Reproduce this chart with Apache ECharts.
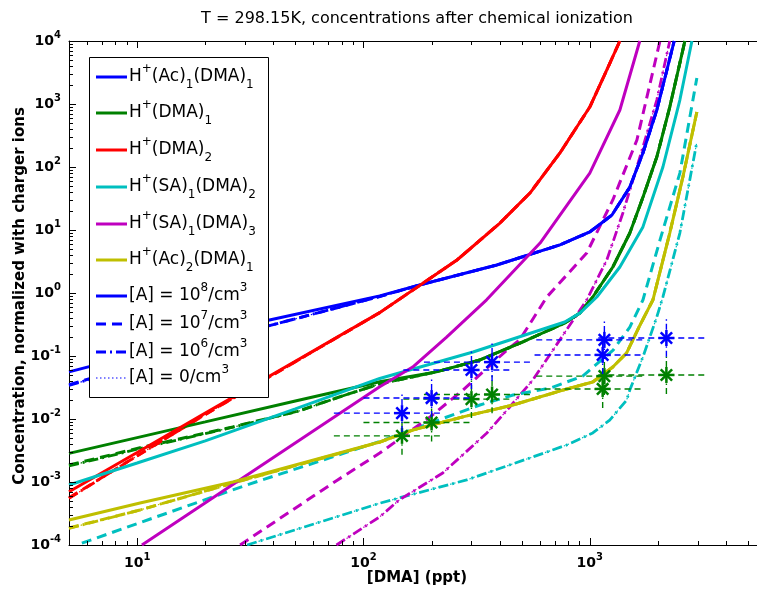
<!DOCTYPE html>
<html><head><meta charset="utf-8">
<script src="https://cdn.jsdelivr.net/npm/echarts@6/dist/echarts.min.js"></script>
<style>html,body{margin:0;padding:0;background:#fff}#c{width:757px;height:592px}</style>
</head><body><div id="c"></div>
<script>
// ---- axis ticks ----
const xMajorTicks = [10, 100, 1000];
const xMinorTicks = [6,7,8,9,20,30,40,50,60,70,80,90,200,300,400,500,600,700,800,900,2000,3000,4000,5000];
const yMajorTicks = [1e-4,1e-3,1e-2,1e-1,1,10,100,1000,10000];
const yMinorTicks = [];
[1e-4,1e-3,1e-2,1e-1,1,10,100,1000].forEach(d => { for (let k = 2; k <= 9; k++) yMinorTicks.push(+(k*d).toPrecision(3)); });

// ---- model curves: [DMA] (ppt), normalized concentration ----
// H+(Ac)1(DMA)1 (blue)
const blue_1e8 = [[5,0.056],[38,0.37],[118,0.9],[177,1.34],[388,2.78],[738,5.8],[1000,9.3],[1253,17.3],[1503,48],[1717,167],[1977,800],[2360,10000]];
const blue_1e7 = [[5,0.035],[38,0.3],[118,0.88],[177,1.34],[388,2.78],[738,5.8],[1000,9.3],[1253,17.3],[1503,48],[1717,167],[1977,800],[2360,10000]];
const blue_1e6 = [[5,0.034],[38,0.3],[118,0.88],[177,1.34],[388,2.78],[738,5.8],[1000,9.3],[1253,17.3],[1503,48],[1717,167],[1977,800],[2360,10000]];
// H+(DMA)1 (green)
const green_1e8 = [[5,0.00285],[20,0.009],[50,0.0193],[118,0.039],[210,0.056],[327,0.0865],[506,0.167],[775,0.334],[904,0.48],[1031,0.865],[1264,2.59],[1503,8.95],[1717,33],[1977,144],[2256,895],[2577,7200],[2630,10000]];
const green_1e7 = [[5,0.00186],[10.3,0.0035],[26.5,0.0075],[52,0.0135],[80,0.023],[118,0.036],[210,0.056],[327,0.0865],[506,0.167],[775,0.334],[904,0.48],[1031,0.865],[1264,2.59],[1503,8.95],[1717,33],[1977,144],[2256,895],[2577,7200],[2630,10000]];
const green_1e6 = [[5,0.0018],[10.3,0.0034],[26.5,0.0074],[52,0.0134],[80,0.023],[118,0.036],[210,0.056],[327,0.0865],[506,0.167],[775,0.334],[904,0.48],[1031,0.865],[1264,2.59],[1503,8.95],[1717,33],[1977,144],[2256,895],[2577,7200],[2630,10000]];
// H+(DMA)2 (red)
const red_1e8 = [[5,0.0007],[10,0.00294],[20,0.0124],[50,0.0824],[118,0.488],[259,3.34],[401,12.9],[544,38.6],[738,167],[1000,895],[1189,3470],[1358,10000]];
const red_1e7 = [[5,0.00056],[10,0.0026],[20,0.0118],[50,0.081],[118,0.488],[259,3.34],[401,12.9],[544,38.6],[738,167],[1000,895],[1189,3470],[1358,10000]];
const red_1e6 = [[5,0.00055],[10,0.0026],[20,0.0118],[50,0.081],[118,0.488],[259,3.34],[401,12.9],[544,38.6],[738,167],[1000,895],[1189,3470],[1358,10000]];
// H+(SA)1(DMA)2 (cyan)
const cyan_1e8 = [[5,0.000895],[10,0.002],[20,0.0045],[50,0.0145],[118,0.044],[305,0.1156],[775,0.347],[904,0.48],[1074,0.865],[1358,2.59],[1717,11.2],[2104,100],[2500,1156],[2826,10000]];
const cyan_1e7 = [[5.7,0.000107],[30.6,0.0009],[118,0.0044],[327,0.0167],[458,0.024],[670,0.031],[930,0.048],[1268,0.124],[1503,0.288],[1717,0.774],[2042,6.9],[2500,80],[2972,2590]];
const cyan_1e6 = [[30.6,0.0001],[118,0.00046],[144,0.00056],[286,0.00108],[560,0.0025],[791,0.00387],[1031,0.006],[1225,0.0096],[1455,0.02],[1503,0.029],[1717,0.0964],[1977,0.416],[2104,0.865],[2500,8.95],[2972,250]];
// H+(SA)1(DMA)3 (magenta)
const magenta_1e8 = [[10.5,0.0001],[118,0.0326],[165,0.0668],[233,0.2],[350,0.78],[603,6.2],[1000,80],[1358,803],[1663,10000]];
const magenta_1e7 = [[28.5,0.0001],[76,0.00105],[118,0.00288],[197,0.0108],[275,0.0288],[430,0.124],[490,0.18],[646,0.865],[969,4.3],[1264,30],[1615,268],[2042,10000]];
const magenta_1e6 = [[76,0.0001],[118,0.00028],[144,0.00052],[224,0.00139],[351,0.006],[443,0.0155],[560,0.0416],[969,0.774],[1189,3.34],[1400,18.6],[1717,207],[1977,1156],[2256,10000]];
// H+(Ac)2(DMA)1 (yellow)
const yellow_1e8 = [[5,0.000249],[10.3,0.000464],[26.5,0.001],[118,0.00432],[165,0.00668],[275,0.0108],[458,0.0167],[762,0.0288],[1031,0.0387],[1264,0.0668],[1455,0.112],[1650,0.288],[1900,0.774],[2256,8.95],[2577,69],[2972,746]];
const yellow_1e7 = [[5,0.000186],[10.3,0.00036],[26.5,0.00096],[118,0.0043],[165,0.00668],[275,0.0108],[458,0.0167],[762,0.0288],[1031,0.0387],[1264,0.0668],[1455,0.112],[1650,0.288],[1900,0.774],[2256,8.95],[2577,69],[2972,746]];
const yellow_1e6 = [[5,0.000184],[10.3,0.00036],[26.5,0.00096],[118,0.0043],[165,0.00668],[275,0.0108],[458,0.0167],[762,0.0288],[1031,0.0387],[1264,0.0668],[1455,0.112],[1650,0.288],[1900,0.774],[2256,8.95],[2577,69],[2972,746]];

// ---- measurements ----
const measX    = [148, 200, 300, 370, 1160, 1140, 2180];
const measXlo  = [74, 100, 150, 185, 580, 570, 1090];
const measXhi  = [222, 300, 450, 555, 1740, 1710, 3270];
const blueY    = [0.0124, 0.0215, 0.060, 0.080, 0.18, 0.104, 0.193];
const blueYlo  = [0.0062, 0.0108, 0.030, 0.040, 0.090, 0.052, 0.097];
const blueYhi  = [0.0248, 0.043, 0.120, 0.160, 0.36, 0.208, 0.386];
const greenY   = [0.0054, 0.0088, 0.0207, 0.0245, 0.048, 0.030, 0.050];
const greenYlo = [0.0027, 0.0044, 0.0104, 0.0123, 0.024, 0.015, 0.025];
const greenYhi = [0.0108, 0.0176, 0.0414, 0.049, 0.096, 0.060, 0.100];

const X_MIN = 5, X_MAX = 5480, Y_MIN = 1e-4, Y_MAX = 1e4;
const C = {blue:'#0000ff', green:'#008000', red:'#ff0000', cyan:'#00bfbf', magenta:'#bf00bf', yellow:'#bfbf00'};
const STY = {
  s8: {type:'solid', width:3},
  s7: {type:[10,6], width:3},
  s6: {type:[10,4,2,4], width:2.8},
  s0: {type:[1.5,2.5], width:1.2}
};
const groups = [
  [C.blue, blue_1e8, blue_1e7, blue_1e6],
  [C.green, green_1e8, green_1e7, green_1e6],
  [C.red, red_1e8, red_1e7, red_1e6],
  [C.cyan, cyan_1e8, cyan_1e7, cyan_1e6],
  [C.magenta, magenta_1e8, magenta_1e7, magenta_1e6],
  [C.yellow, yellow_1e8, yellow_1e7, yellow_1e6]
];
const series = [];
function lineS(color, data, sty){
  return {type:'line', data, symbol:'none', smooth:false, clip:true, silent:true,
    lineStyle:{color, width:sty.width, type:sty.type, cap:'butt'}, z:2};
}
['s0','s6','s7','s8'].forEach(k => {
  groups.forEach(g => {
    const d = k==='s8'?g[1]:k==='s7'?g[2]:g[3];
    series.push(lineS(g[0], d, STY[k]));
  });
});
function errSeries(color, xs, ys, xlo, xhi, ylo, yhi){
  const data = xs.map((x,i)=>[x, ys[i], xlo[i], xhi[i], ylo[i], yhi[i]]);
  return {type:'custom', data, encode:{x:0,y:1}, z:5, clip:false, silent:true,
    renderItem(params, api){
      const c = api.coord([api.value(0), api.value(1)]);
      const l = api.coord([api.value(2), api.value(1)]);
      const r = api.coord([api.value(3), api.value(1)]);
      const b = api.coord([api.value(0), api.value(4)]);
      const t = api.coord([api.value(0), api.value(5)]);
      const R = 8, D = 5.7;
      const st = {stroke:color, lineWidth:2.5, fill:null};
      return {type:'group', children:[
        {type:'line', shape:{x1:l[0],y1:l[1],x2:r[0],y2:r[1]}, style:{stroke:color, lineWidth:1.4, lineDash:[6,4]}},
        {type:'line', shape:{x1:b[0],y1:b[1],x2:t[0],y2:t[1]}, style:{stroke:color, lineWidth:1.4, lineDash:[6,3,1.5,3]}},
        {type:'line', shape:{x1:c[0]-R,y1:c[1],x2:c[0]+R,y2:c[1]}, style:st},
        {type:'line', shape:{x1:c[0],y1:c[1]-R,x2:c[0],y2:c[1]+R}, style:st},
        {type:'line', shape:{x1:c[0]-D,y1:c[1]-D,x2:c[0]+D,y2:c[1]+D}, style:st},
        {type:'line', shape:{x1:c[0]-D,y1:c[1]+D,x2:c[0]+D,y2:c[1]-D}, style:st}
      ]};
    }};
}
series.push(errSeries(C.green, measX, greenY, measXlo, measXhi, greenYlo, greenYhi));
series.push(errSeries(C.blue, measX, blueY, measXlo, measXhi, blueYlo, blueYhi));

// ---- tick marks (drawn through the axis scales) ----
const xTickData = xMajorTicks.map(v => [v, Y_MIN, 7]).concat(xMinorTicks.map(v => [v, Y_MIN, 4]));
const yTickData = yMajorTicks.map(v => [X_MIN, v, 7]).concat(yMinorTicks.map(v => [X_MIN, v, 4]));
series.push({type:'custom', data:xTickData, encode:{x:0,y:1}, z:6, clip:false, silent:true,
  renderItem(params, api){
    const v = api.value(0), len = api.value(2);
    const b = api.coord([v, Y_MIN]), t = api.coord([v, Y_MAX]);
    const st = {stroke:'#000', lineWidth:1};
    const xx = Math.round(b[0]) + 0.5;
    return {type:'group', children:[
      {type:'line', shape:{x1:xx, y1:b[1], x2:xx, y2:b[1]-len}, style:st},
      {type:'line', shape:{x1:xx, y1:t[1], x2:xx, y2:t[1]+len}, style:st}
    ]};
  }});
series.push({type:'custom', data:yTickData, encode:{x:0,y:1}, z:6, clip:false, silent:true,
  renderItem(params, api){
    const v = api.value(1), len = api.value(2);
    const l = api.coord([X_MIN, v]);
    const yy = Math.round(l[1]) + 0.5;
    return {type:'line', shape:{x1:l[0], y1:yy, x2:l[0]+len, y2:yy}, style:{stroke:'#000', lineWidth:1}};
  }});

const FONT = 'DejaVu Sans';
const tickRich = {
  b:{fontFamily:FONT, fontSize:14, fontWeight:'bold', color:'#000', lineHeight:22, verticalAlign:'middle'},
  s:{fontFamily:FONT, fontSize:10, fontWeight:'bold', color:'#000', lineHeight:10, verticalAlign:'top'}
};
function powFmt(v){ const e = Math.round(Math.log10(v)); if (Math.abs(Math.log10(v)-e) > 1e-6) return ''; return '{b|10}{s|' + e + '}'; }

// ---- legend (graphic) ----
const lg = {x:89, y:57, w:179, h:340, lineX1:96, lineX2:127, textX:129};
const legendItems = [
  {y:77,  color:C.blue,    sty:'s8', text:'{n|H}{p|+}{n|(Ac)}{d|1}{n|(DMA)}{d|1}'},
  {y:113, color:C.green,   sty:'s8', text:'{n|H}{p|+}{n|(DMA)}{d|1}'},
  {y:150, color:C.red,     sty:'s8', text:'{n|H}{p|+}{n|(DMA)}{d|2}'},
  {y:187, color:C.cyan,    sty:'s8', text:'{n|H}{p|+}{n|(SA)}{d|1}{n|(DMA)}{d|2}'},
  {y:224, color:C.magenta, sty:'s8', text:'{n|H}{p|+}{n|(SA)}{d|1}{n|(DMA)}{d|3}'},
  {y:260, color:C.yellow,  sty:'s8', text:'{n|H}{p|+}{n|(Ac)}{d|2}{n|(DMA)}{d|1}'},
  {y:296, color:C.blue,    sty:'s8', text:'{n|[A] = 10}{p|8}{n|/cm}{p|3}'},
  {y:324, color:C.blue,    sty:'s7', text:'{n|[A] = 10}{p|7}{n|/cm}{p|3}'},
  {y:352, color:C.blue,    sty:'s6', text:'{n|[A] = 10}{p|6}{n|/cm}{p|3}'},
  {y:378, color:C.blue,    sty:'s0', text:'{n|[A] = 0/cm}{p|3}'}
];
const legRich = {
  n:{fontFamily:FONT, fontSize:17, color:'#000', lineHeight:28, verticalAlign:'middle'},
  p:{fontFamily:FONT, fontSize:12, color:'#000', lineHeight:14, verticalAlign:'top'},
  d:{fontFamily:FONT, fontSize:12, color:'#000', lineHeight:6, verticalAlign:'bottom'}
};
const graphics = [
  {type:'text', x:417, y:19, z:100, style:{text:'T = 298.15K, concentrations after chemical ionization', fontFamily:FONT, fontSize:16, fill:'#000', align:'center', verticalAlign:'middle', textAlign:'center', textVerticalAlign:'middle'}},
  {type:'text', x:417, y:578, z:100, style:{text:'[DMA] (ppt)', fontFamily:FONT, fontSize:15, fontWeight:'bold', fill:'#000', align:'center', verticalAlign:'middle', textAlign:'center', textVerticalAlign:'middle'}},
  {type:'text', x:20, y:296, z:100, rotation:Math.PI/2, style:{text:'Concentration, normalized with charger ions', fontFamily:FONT, fontSize:15, fontWeight:'bold', fill:'#000', align:'center', verticalAlign:'middle', textAlign:'center', textVerticalAlign:'middle'}},
  {type:'rect', shape:{x:lg.x+0.5, y:lg.y+0.5, width:lg.w, height:lg.h}, z:100, style:{fill:'#fff', stroke:'#000', lineWidth:1}}
];
legendItems.forEach(it => {
  const s = STY[it.sty];
  graphics.push({type:'line', z:101, shape:{x1:lg.lineX1, y1:it.y, x2:lg.lineX2, y2:it.y},
    style:{stroke:it.color, lineWidth:s.width, lineDash: (s.type==='solid'?null:s.type)}});
  graphics.push({type:'text', z:101, x:lg.textX, y:it.y,
    style:{text:it.text, rich:legRich, align:'left', verticalAlign:'middle', textAlign:'left', textVerticalAlign:'middle'}});
});

const chart = echarts.init(document.getElementById('c'), null, {renderer:'canvas', width:757, height:592});
chart.setOption({
  animation:false,
  backgroundColor:'#fff',
  grid:{left:69, top:41, width:688, height:504, containLabel:false},
  xAxis:[
    {type:'log', logBase:10, min:X_MIN, max:X_MAX, position:'bottom',
     axisLine:{show:true, onZero:false, lineStyle:{color:'#000', width:1}},
     axisTick:{show:false},
     axisLabel:{show:true, customValues:xMajorTicks, formatter:powFmt, rich:tickRich, margin:7},
     splitLine:{show:false}, minorTick:{show:false}},
    {type:'log', logBase:10, min:X_MIN, max:X_MAX, position:'top',
     axisLine:{show:true, onZero:false, lineStyle:{color:'#000', width:1}},
     axisTick:{show:false}, axisLabel:{show:false}, splitLine:{show:false}}
  ],
  yAxis:[
    {type:'log', logBase:10, min:Y_MIN, max:Y_MAX, position:'left',
     axisLine:{show:true, onZero:false, lineStyle:{color:'#000', width:1}},
     axisTick:{show:false},
     axisLabel:{show:true, customValues:yMajorTicks, formatter:powFmt, rich:tickRich, margin:8},
     splitLine:{show:false}, minorTick:{show:false}}
  ],
  series,
  graphic: graphics
});
</script></body></html>
